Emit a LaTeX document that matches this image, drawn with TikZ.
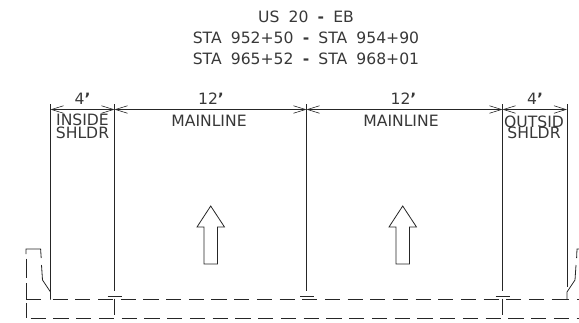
\documentclass[tikz,border=0pt]{standalone}
\usepackage{fontspec}
\setmainfont[WordSpace=1.85]{DejaVu Sans}
\usetikzlibrary{arrows.meta}
\newcommand{\ftmark}{\textbf{\symbol{39}}}
\tikzset{
 x=1pt,y=-1pt,
 line/.style={draw=black!85,line width=0.8pt},
 dim/.style={line,{Straight Barb[length=12pt,width=7.5pt,line width=0.6pt]}-{Straight Barb[length=12pt,width=7.5pt,line width=0.6pt]}},
 txt/.style={inner sep=0pt,anchor=base,text=black!78,font=\fontsize{15.6}{15.6}\selectfont},
 dash1/.style={line,dash pattern=on 15.1pt off 7.58pt},
 dash2/.style={line,dash pattern=on 15.1pt off 7.65pt},
 flow/.style={draw=black!85,line width=0.8pt,fill=white,line join=miter},
}
\begin{document}
\begin{tikzpicture}
\useasboundingbox (0,0) rectangle (579,322);
\clip (0,0) rectangle (579,322);
% title
\node[txt] (t1) at (306,22.3) {US 20 \textbf{-} EB};
\node[txt] (t2) at (306,43.5) {STA 952+50 \textbf{-} STA 954+90};
\node[txt] (t3) at (306,64.5) {STA 965+52 \textbf{-} STA 968+01};
% column tops and bottoms
\coordinate (a1) at (50.5,104); \coordinate (a2) at (50.5,292);
\coordinate (b1) at (114.5,104); \coordinate (b2) at (114.5,291);
\coordinate (c1) at (306.5,104); \coordinate (c2) at (306.5,291);
\coordinate (d1) at (502.5,104); \coordinate (d2) at (502.5,291);
\coordinate (e1) at (567,104); \coordinate (e2) at (567,287);
\draw[line] (a1)--(a2);
\draw[line] (b1)--(b2);
\draw[line] (c1)--(c2);
\draw[line] (d1)--(d2);
\draw[line] (e1)--(e2);
% dimension lines
\coordinate (ad) at (50.5,109.5); \coordinate (bd) at (114.5,109.5);
\coordinate (cd) at (306.5,109.5); \coordinate (dd) at (502.5,109.5);
\coordinate (ed) at (567,109.5);
\draw[dim] (ad)--(bd);
\draw[dim] (bd)--(cd);
\draw[dim] (cd)--(dd);
\draw[dim] (dd)--(ed);
% labels
\node[txt] (w1) at (82.5,104) {4\ftmark};
\node[txt] (w2) at (211,104) {12\ftmark};
\node[txt] (w3) at (403.5,104) {12\ftmark};
\node[txt] (w4) at (535,104) {4\ftmark};
\node[txt] (l1) at (82.5,125) {INSIDE};
\node[txt] (l2) at (82.5,138) {SHLDR};
\node[txt] (l3) at (209,126) {MAINLINE};
\node[txt] (l4) at (401,126) {MAINLINE};
\node[txt] (l5) at (534,127) {OUTSID};
\node[txt] (l6) at (534,138) {SHLDR};
% travel arrows
\draw[flow] (210.7,206)--(224.5,227)--(217.5,227)--(217.5,264)--(204,264)--(204,227)--(197,227)--cycle;
\draw[flow] (402.7,206)--(416.5,227)--(409.5,227)--(409.5,264)--(396,264)--(396,227)--(389,227)--cycle;
% joints
\draw[line] (107.5,296.7)--(122,296.7);
\draw[line] (300,296.7)--(314,296.7);
\draw[line] (495.5,296.7)--(510,296.7);
\draw[line] (114.5,298.5)--(114.5,315);
\draw[line] (502.5,298.5)--(502.5,315);
% pavement dashes
\draw[dash1] (52.7,299.5)--(567,299.5);
\draw[line] (552,299.5)--(568.7,299.5);
\draw[line] (577,299.5)--(579,299.5);
\draw[dash2] (30.7,318)--(579,318);
% left curb
\draw[line,line join=round] (50.5,299.5)--(50.5,292)--(42.5,280)--(41.5,265);
\draw[line] (41.2,258)--(40.6,249)--(26,249)--(26,254);
\draw[line] (26,258.5)--(26,278);
\draw[line] (26,283)--(26,299.5)--(41,299.5);
\draw[line] (26,303)--(26,318);
% right curb
\draw[line,line join=round] (567,299.5)--(567,292)--(575,280)--(576,265);
\draw[line] (576.6,258)--(577,249)--(579,249);
\end{tikzpicture}
\end{document}
